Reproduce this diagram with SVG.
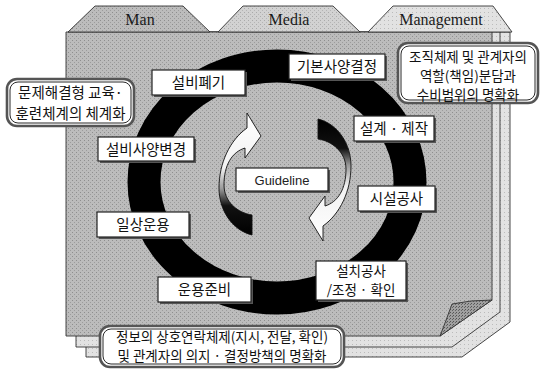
<svg xmlns="http://www.w3.org/2000/svg" width="544" height="369" viewBox="0 0 544 369">
<defs>
<style>
.kr{font-family:"Noto Sans CJK KR","Noto Sans",sans-serif;font-size:14.5px;fill:#111;text-anchor:middle}
.kn{font-family:"Noto Sans CJK KR","Noto Sans",sans-serif;font-size:13.5px;fill:#111;text-anchor:middle}
.tab{font-family:"Liberation Serif",serif;font-size:16px;fill:#1a1a1a;text-anchor:middle}
.lbl{fill:#fff;stroke:#222;stroke-width:1.2}
.shd{fill:#555}
.rb{fill:#fff;stroke:#555;stroke-width:2.6}
.rbi{fill:none;stroke:#111;stroke-width:0.9}
.edge{stroke:#333;stroke-width:0.9}
</style>
<pattern id="tex" width="4" height="4" patternUnits="userSpaceOnUse"><rect width="4" height="4" fill="#bcbcbc"/><rect width="1" height="1" fill="#8e8e8e"/><rect x="2" y="2" width="1" height="1" fill="#9c9c9c"/></pattern>
<pattern id="texD" width="3" height="3" patternUnits="userSpaceOnUse"><rect width="3" height="3" fill="#a0a0a0"/><rect width="1" height="1" fill="#555"/><rect x="2" y="1" width="1" height="1" fill="#666"/></pattern>
<pattern id="texL" width="4" height="4" patternUnits="userSpaceOnUse"><rect width="4" height="4" fill="#e2e2e2"/><rect width="1" height="1" fill="#bbb"/></pattern>
<pattern id="texM" width="4" height="4" patternUnits="userSpaceOnUse"><rect width="4" height="4" fill="#d2d2d2"/><rect width="1" height="1" fill="#aaa"/><rect x="2" y="2" width="1" height="1" fill="#b5b5b5"/></pattern>
<linearGradient id="gA" x1="0" y1="0" x2="0" y2="1">
<stop offset="0" stop-color="#fff"/><stop offset="0.45" stop-color="#f2f2f2"/><stop offset="0.62" stop-color="#9a9a9a"/><stop offset="0.76" stop-color="#111"/><stop offset="1" stop-color="#000"/>
</linearGradient>
</defs>

<g id="pages">
<path class="edge" fill="url(#texL)" d="M86,32 L510,32 L510,322 L462,357 L86,357 Z"/>
<path class="edge" fill="url(#texL)" d="M76,32 L500,32 L500,312 L452,347 L76,347 Z"/>
<path class="edge" fill="url(#tex)" d="M66,32 L492,32 L492,300 L440,336 L66,336 Z"/>
<path class="edge" fill="url(#texD)" d="M492,300 Q470,300 452,304 Q447,318 440,336 Z"/>
</g>

<g id="tab-man">
<path class="edge" fill="url(#tex)" d="M68,32 L95,6 L183,6 L210,32 Z"/>
<text class="tab" x="140" y="25">Man</text>
</g>
<g id="tab-media">
<path class="edge" fill="url(#texM)" d="M218,32 L243,6 L333,6 L360,32 Z"/>
<text class="tab" x="289" y="25">Media</text>
</g>
<g id="tab-management">
<path class="edge" fill="url(#texL)" d="M368,32 L393,6 L493,6 L512,32 Z"/>
<text class="tab" x="441" y="25">Management</text>
</g>

<g id="cycle">
<ellipse cx="277" cy="182" rx="133" ry="116" fill="none" stroke="#000" stroke-width="33"/>
</g>

<g id="connectors">
<path id="arrow-left" fill="url(#gA)" stroke="#111" stroke-width="0.9" d="M252,235 C232,230 219,210 219,188 C219,163 230,140 247,128 L247,113 L261,136 L245,158 L245,148 C232,152 224,165 224,185 C224,202 238,213 252,215 Z"/>
<path id="arrow-right" fill="url(#gA)" stroke="#111" stroke-width="0.9" transform="rotate(180 285 177)" d="M252,235 C232,230 219,210 219,188 C219,163 230,140 247,128 L247,113 L261,136 L245,158 L245,148 C232,152 224,165 224,185 C224,202 238,213 252,215 Z"/>
</g>

<g id="n-seolbipyegi">
<rect class="shd" x="154" y="72" width="93" height="25"/>
<rect class="lbl" x="152" y="70" width="93" height="25"/>
<text class="kr" x="198.5" y="88">설비폐기</text>
</g>
<g id="n-gibonsayang">
<rect class="shd" x="291" y="56" width="96" height="25"/>
<rect class="lbl" x="289" y="54" width="96" height="25"/>
<text class="kr" x="337" y="72">기본사양결정</text>
</g>
<g id="n-seolgye">
<rect class="shd" x="356" y="118" width="80" height="25"/>
<rect class="lbl" x="354" y="116" width="80" height="25"/>
<text class="kr" x="394" y="134">설계 · 제작</text>
</g>
<g id="n-byeongyeong">
<rect class="shd" x="100" y="139" width="96" height="24"/>
<rect class="lbl" x="98" y="137" width="96" height="24"/>
<text class="kr" x="146" y="154.5">설비사양변경</text>
</g>
<g id="n-guideline">
<rect class="shd" x="238" y="170" width="92" height="23"/>
<rect class="lbl" x="236" y="168" width="92" height="23"/>
<text x="282" y="184.5" font-family="Liberation Sans, Arial, sans-serif" font-size="13" fill="#222" text-anchor="middle">Guideline</text>
</g>
<g id="n-sisulgongsa">
<rect class="shd" x="360" y="188" width="77" height="25"/>
<rect class="lbl" x="358" y="186" width="77" height="25"/>
<text class="kr" x="396.5" y="204">시설공사</text>
</g>
<g id="n-ilsang">
<rect class="shd" x="99" y="214" width="92" height="25"/>
<rect class="lbl" x="97" y="212" width="92" height="25"/>
<text class="kr" x="143" y="230">일상운용</text>
</g>
<g id="n-unyong">
<rect class="shd" x="160" y="279" width="93" height="25"/>
<rect class="lbl" x="158" y="277" width="93" height="25"/>
<text class="kr" x="204.5" y="295">운용준비</text>
</g>
<g id="n-seolchi">
<rect class="shd" x="318" y="263" width="90" height="39"/>
<rect class="lbl" x="316" y="261" width="90" height="39"/>
<text class="kn" x="361" y="276">설치공사</text>
<text class="kn" x="361" y="295">/조정 · 확인</text>
</g>

<g id="n-left-note">
<rect class="rb" x="7" y="79" width="127" height="47" rx="10"/>
<rect class="rbi" x="10" y="82" width="121" height="41" rx="8"/>
<text class="kr" x="70.5" y="98">문제해결형 교육·</text>
<text class="kr" x="70.5" y="119">훈련체계의 체계화</text>
</g>
<g id="n-right-note">
<rect class="rb" x="398" y="43" width="140" height="60" rx="10"/>
<rect class="rbi" x="401" y="46" width="134" height="54" rx="8"/>
<text class="kn" x="468" y="62">조직체제 및 관계자의</text>
<text class="kn" x="468" y="81">역할(책임)분담과</text>
<text class="kn" x="468" y="100">수비범위의 명확화</text>
</g>
<g id="n-bottom-note">
<rect class="rb" x="100" y="326" width="244" height="41" rx="10"/>
<rect class="rbi" x="103" y="329" width="238" height="35" rx="8"/>
<text class="kn" x="222" y="342">정보의 상호연락체제(지시, 전달, 확인)</text>
<text class="kn" x="222" y="361">및 관계자의 의지 · 결정방책의 명확화</text>
</g>
</svg>
